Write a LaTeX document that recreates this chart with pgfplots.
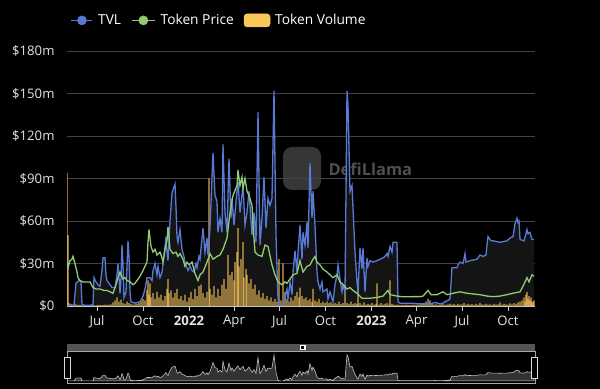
\documentclass[border=0pt]{standalone}
\usepackage{fontspec}
\setmainfont{Open Sans}
\usepackage{pgfplots}
\usepackage{pgfplotstable}
\pgfplotsset{compat=1.18}
\definecolor{tvl}{RGB}{88,122,212}
\definecolor{price}{RGB}{145,204,117}
\definecolor{vol}{RGB}{212,168,78}
\definecolor{volleg}{RGB}{250,200,88}
\definecolor{gridc}{RGB}{66,66,66}
\definecolor{axc}{RGB}{200,200,200}
\definecolor{lab}{RGB}{228,228,228}
% x = days since 2021-01-01, values in $m
\pgfplotstableread{
day tvl
121 0
127 0.5
135 0.5
139 16
145 18
149 17
151 1
157 0.5
167 0.5
173 1
175 20
179 17
183 15
187 14
191 25
193 34
197 34
199 22
201 18
207 15
211 13
217 13
221 22
223 30
225 20
227 9
229 20
231 43
233 30
235 6
239 10
243 46
245 35
247 10
249 3
257 2
267 3
273 7
277 12
281 20
287 20
291 18
293 25
297 30
301 22
303 28
307 20
311 24
313 30
317 42
319 49
321 38
323 32
327 60
331 80
335 84
337 86
339 70
341 49
343 45
347 54
351 40
355 35
357 30
361 27
363 25
367 28
371 25
375 24
379 30
381 27
385 35
387 33
393 55
397 38
401 48
403 36
407 55
413 108
417 78
421 74
423 52
427 62
431 52
433 114
437 66
441 52
445 104
449 62
451 76
455 57
459 74
463 88
467 66
473 85
477 57
481 66
485 81
491 50
495 66
499 45
503 137
507 43
511 62
515 91
519 55
523 76
527 71
531 76
535 152
539 50
543 5
547 0
553 0.5
561 12
563 5
567 17
571 8
573 24
577 39
581 24
583 38
587 57
591 33
593 52
597 43
601 59
603 41
607 101
611 62
613 81
617 57
621 24
623 17
627 12
631 17
633 10
641 12
643 5
647 10
653 3
657 15
661 22
663 29
667 19
671 10
673 15
677 10
681 152
683 142
687 81
691 85
693 69
697 38
701 17
703 10
707 41
711 26
713 41
717 10
721 34
723 28
727 32
733 31
741 32
747 33
753 34
757 35
761 37
763 35
767 42
771 38
773 45
781 45
783 3
787 2
807 2
827 1.5
847 1.5
857 2.5
867 1.5
873 2
877 3
883 4
887 5
891 27
901 27
903 29
907 31
913 30
917 37
919 31
927 32
941 33
947 36
953 35
959 36
961 43
963 49
969 46
973 46
987 45
1001 46
1007 48
1013 49
1017 58
1021 62
1023 59
1025 60
1027 47
1035 46
1041 54
1043 51
1047 52
1051 47
1055 47
}\tvltab
\pgfplotstableread{
day price
121 32
123 27
127 32
131 33
133 35
137 30
141 24
143 20
147 18
153 17
159 17
167 17
173 13
179 12
187 12
195 11
201 11
207 10
213 9
219 15
223 20
227 24
229 22
233 19
237 20
241 18
247 17
253 15
257 16
261 18
267 21
273 25
277 28
281 31
283 45
285 54
287 48
289 42
293 38
297 40
301 36
307 38
311 34
313 31
317 40
321 46
323 56
325 48
327 40
333 37
339 38
343 35
347 37
353 33
357 28
361 31
365 29
371 31
377 23
383 18
387 22
393 24
401 31
407 37
413 33
421 35
427 36
433 40
441 48
447 66
453 78
461 85
463 96
467 85
471 91
473 83
477 90
481 81
485 78
491 71
493 57
497 38
503 36
511 35
517 43
523 42
531 29
537 22
543 17
551 15
557 17
561 16
567 19
573 22
581 23
587 32
593 24
601 28
607 29
613 33
617 35
621 31
627 29
633 26
641 24
647 22
653 20
661 22
667 17
673 15
681 12
687 13
693 11
701 9
711 5.5
717 5.5
727 5.5
741 6
753 7
763 11
767 8
781 7
793 6.5
813 6.6
827 6.6
833 7
843 11
849 8
861 8
873 10
881 8
893 9
907 10
921 9
933 8.5
947 8
961 7
973 6.6
987 7
1001 8
1013 9
1027 10
1033 14
1041 20
1045 17
1051 22
1055 21
}\pricetab
\pgfplotstableread{
day vol
121 94
123 50
125 2
129 1.5
133 1
137 1.5
141 1
145 0.8
149 0.6
153 0.5
157 0.5
161 0.6
165 0.5
169 0.5
173 0.7
177 0.5
181 0.6
185 0.8
189 0.6
193 0.7
197 0.9
201 0.8
205 1
209 1.2
213 2.5
217 4
221 6
225 3
229 4.5
233 2
237 1.5
241 3
245 2
249 1.5
253 1
257 1.2
261 1.5
265 2
269 3.5
273 5
277 4
281 11
283 18
285 8
287 16
289 6
293 9
297 5
301 10
305 6
309 8
313 4
317 7
321 12
323 19
325 9
329 11
333 6
337 9
341 12
345 5
349 7
353 4
357 8
361 3
365 6
369 10
373 5
377 12
381 7
385 14
389 15
393 9
397 6
401 10
405 90
407 12
411 8
415 14
419 6
423 12
427 7
431 15
435 19
439 12
443 36
447 22
451 24
455 18
457 31
461 38
463 55
465 28
469 33
473 45
475 20
479 26
481 22
485 16
489 19
493 12
497 15
501 8
505 11
509 6
513 9
517 5
521 7
525 4
529 6
533 3
537 5
541 3
545 33
549 4
553 30
557 10
561 5
565 3
569 6
573 4
577 7
581 10
585 6
587 13
591 7
595 5
599 6
603 4
607 5
611 3
613 12
617 4
621 3
625 5
629 2
633 3
637 2
641 3
645 2
649 2.5
653 1.5
657 2
661 1.5
665 3
669 1.5
673 2
677 15
681 2
685 1.5
689 3
693 1.5
697 2
701 1.5
703 19
707 2
711 1
715 2.5
719 1
723 1.5
727 1
731 2
735 1
739 1.5
741 16
745 1
749 2
753 1
757 1.5
761 2
765 1
767 18
771 1.5
775 1
779 0.8
783 1
787 0.7
791 0.8
795 0.6
799 1
803 0.7
807 0.6
811 0.8
815 1
819 0.7
823 1.2
827 1
831 1.5
835 2
839 3
843 5
847 4
851 1.5
855 1
859 1.2
863 0.8
867 1
871 1.5
875 1
879 0.8
883 1.2
887 1.5
891 1
895 1.3
899 0.8
903 1.5
907 1
911 1.2
915 2
919 1
923 1.5
927 1
931 1.3
935 0.8
939 1.5
943 1
947 2
951 1.2
955 1
959 1.5
963 1
967 1.2
971 0.8
975 1.5
979 1
983 1.2
987 2.5
991 1
995 1.5
999 1.2
1003 1
1007 1.8
1011 1.2
1015 2
1019 1.5
1023 2.5
1027 3
1031 4
1035 6
1037 3
1039 8
1041 10
1043 5
1045 7
1047 4
1049 6
1051 3
1053 2.5
1055 4
}\voltab
\begin{document}
\begin{tikzpicture}
\fill[black] (0bp,0bp) rectangle (600bp,389bp);
\useasboundingbox (0bp,0bp) rectangle (600bp,389bp);
% watermark
\fill[white!21!black, rounded corners=9bp] (283bp,199bp) rectangle (321bp,242bp);
\node[anchor=west, text=white!31!black, font=\bfseries\fontsize{16.5}{16.5}\selectfont] at (325bp,220bp) {DefiLlama};
\begin{axis}[
  at={(67bp,83bp)}, anchor=south west,
  width=468bp, height=255bp, scale only axis,
  xmin=121, xmax=1057, ymin=0, ymax=180,
  axis lines*=left,
  x axis line style={-, draw=axc, line width=0.8bp},
  y axis line style={draw=none},
  ymajorgrids, grid style={gridc, line width=0.8bp},
  xtick={181,273,365,455,546,638,730,820,911,1003},
  xticklabels={Jul,Oct,\textbf{2022},Apr,Jul,Oct,\textbf{2023},Apr,Jul,Oct},
  ytick={0,30,60,90,120,150,180},
  yticklabels={\$0,\$30m,\$60m,\$90m,\$120m,\$150m,\$180m},
  tick align=outside,
  major tick length=5bp,
  xtick style={draw=axc, line width=0.8bp},
  ytick style={draw=none},
  tick label style={text=lab, font=\fontsize{13.2}{13.2}\selectfont},
  xticklabel style={yshift=-1bp},
  yticklabel style={xshift=-4bp},
  legend columns=3,
  legend style={at={(0.325,1.12)}, anchor=center, draw=none, fill=none,
    text=white, font=\fontsize{13.8}{13.8}\selectfont,
    /tikz/every odd column/.append style={column sep=3bp},
    /tikz/every even column/.append style={column sep=8bp}},
]
\addlegendimage{legend image code/.code={\draw[tvl, line width=1.5bp] (0bp,0bp)--(21bp,0bp); \fill[tvl] (10.5bp,0bp) circle (4.6bp);}}
\addlegendentry{TVL}
\addlegendimage{legend image code/.code={\draw[price, line width=1.5bp] (0bp,0bp)--(23bp,0bp); \fill[price] (11.5bp,0bp) circle (4.6bp);}}
\addlegendentry{Token Price}
\addlegendimage{legend image code/.code={\fill[volleg, rounded corners=3bp] (0bp,-6.5bp) rectangle (26bp,6.5bp);}}
\addlegendentry{Token Volume}
\addplot[draw=none, fill=white!8!black, forget plot] table[x=day,y=tvl] {\tvltab} \closedcycle;
\addplot[ybar, bar width=2.6, fill=vol, draw=none, forget plot] table[x=day,y=vol] {\voltab};
\addplot[tvl, line width=1.3bp, forget plot] table[x=day,y=tvl] {\tvltab};
\addplot[price, line width=1.3bp, forget plot] table[x=day,y=price] {\pricetab};
\end{axis}
% slider
\fill[white!33!black] (67bp,38bp) rectangle (535bp,45bp);
\begin{axis}[
  at={(67bp,6bp)}, anchor=south west,
  width=468bp, height=32bp, scale only axis, hide axis,
  xmin=121, xmax=1057, ymin=-12, ymax=175,
]
\addplot[draw=white!75!black, line width=0.6bp, fill=white!20!black] table[x=day,y=tvl] {\tvltab} \closedcycle;
\end{axis}
\draw[white!65!black, line width=0.6bp] (67bp,6bp) rectangle (535bp,38bp);
\fill[white] (299.5bp,39bp) rectangle (305.5bp,44bp);
\draw[black, line width=0.5bp] (301.5bp,39.8bp)--(301.5bp,43.2bp) (302.5bp,39.8bp)--(302.5bp,43.2bp) (303.5bp,39.8bp)--(303.5bp,43.2bp);
\draw[white!85!black, fill=black, line width=0.6bp] (64.5bp,11bp) rectangle (70.5bp,32bp);
\draw[white!85!black, fill=black, line width=0.6bp] (531.5bp,11bp) rectangle (537.5bp,32bp);
\end{tikzpicture}
\end{document}
